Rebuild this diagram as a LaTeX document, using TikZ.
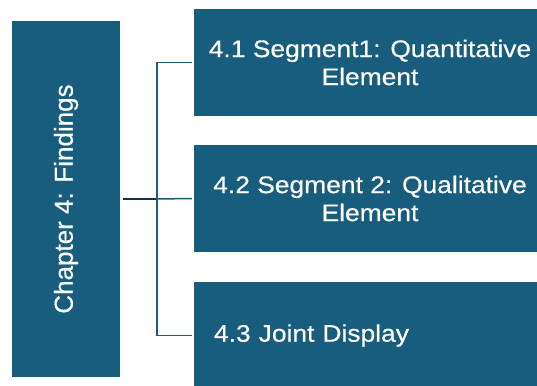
\documentclass[tikz,border=0pt]{standalone}
\usepackage{fontspec}
\setmainfont{Liberation Sans}[FakeBold=0.5]
\newfontfamily\widesans{Liberation Sans}[FakeStretch=1.1, FakeBold=0.5]
\usepackage{xcolor}
\usetikzlibrary{positioning}

\definecolor{chapblue}{RGB}{24,92,126}
\definecolor{linkblue}{RGB}{30,90,120}
\definecolor{trunkblue}{RGB}{12,52,78}

\begin{document}
\begin{tikzpicture}[
  x=1pt, y=-1pt,
  chapbox/.style={rectangle, fill=chapblue, text=white, minimum width=108pt,
                  minimum height=356pt, inner sep=0pt,
                  font=\fontsize{26}{30}\selectfont},
  segbox/.style={rectangle, fill=chapblue, text=white, minimum width=352pt,
                 minimum height=107pt, inner sep=0pt, align=center,
                 font=\widesans\fontsize{24}{28}\selectfont},
  branch/.style={draw=linkblue, line width=1.5pt},
  trunk/.style={draw=trunkblue, line width=2.5pt}
]
  \useasboundingbox (0,0) rectangle (537,385);
  \fill[white] (0,0) rectangle (537,385);

  \node[chapbox] (ch) at (66,199) {\rotatebox{90}{Chapter 4: Findings}};

  \node[segbox] (s1) at (370,62.5) {4.1 Segment1: Quantitative\\Element};
  \node[segbox] (s2) at (370,198.5) {4.2 Segment 2: Qualitative\\Element};
  \node[segbox, align=left, text width=312pt, inner xsep=20pt] (s3) at (370,335.5)
    {4.3 Joint Display};

  % connectors
  \draw[trunk] ([xshift=3pt]ch.east) -- ++(34,0) coordinate (j);
  \draw[branch] ([xshift=-2pt]s1.west) -- ++(-35,0) |- ([xshift=-2pt]s3.west);
  \draw[branch] (j) -- ([xshift=-2pt]s2.west);
\end{tikzpicture}
\end{document}
